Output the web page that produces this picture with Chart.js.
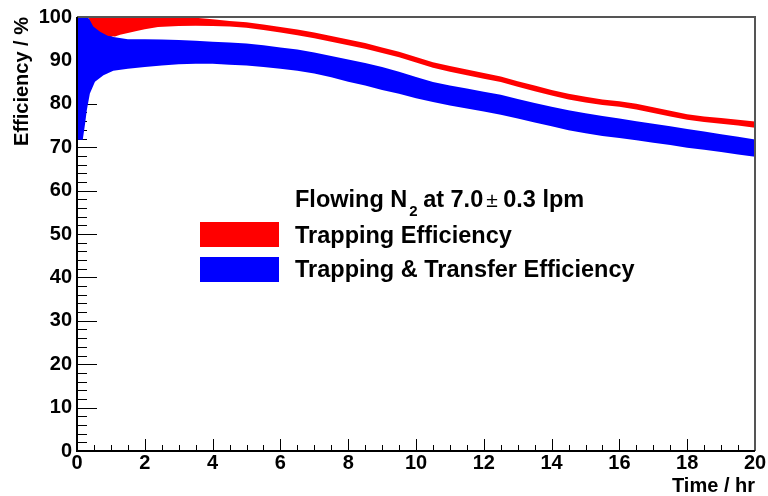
<!DOCTYPE html>
<html>
<head>
<meta charset="utf-8">
<script src="https://cdn.jsdelivr.net/npm/chart.js@4/dist/chart.umd.min.js"></script>
<style>
html,body{margin:0;padding:0;background:#fff;}
#wrap{width:768px;height:496px;}
</style>
</head>
<body>
<div id="wrap"><canvas id="c" width="768" height="496"></canvas></div>
<script>
// ---- data ----
const redTime  = [0.33,0.48,0.68,0.92,1.12,1.27,1.5,1.76,2,2.39,3,3.5,4,4.5,5,5.5,6,6.5,7,7.5,8,8.5,9,9.5,10,10.5,11,11.5,12,12.5,13,13.5,14,14.5,15,15.5,16,16.5,17,17.5,18,18.5,19,19.5,20];
const redUpper = [100,100,100,100,100,100,100,100,100,100,100,99.8,99.5,99.1,98.8,98.3,97.7,97.1,96.4,95.6,94.8,94.0,93.0,92.0,90.8,89.6,88.7,87.9,87.1,86.3,85.2,84.2,83.2,82.3,81.6,81.0,80.6,80.0,79.2,78.4,77.6,77.1,76.7,76.3,75.9];
const redLower = [100,97.8,96.6,95.6,95.5,95.9,96.3,96.8,97.2,97.7,97.9,98.0,97.9,97.8,97.5,97.0,96.4,95.8,95.1,94.3,93.5,92.7,91.7,90.7,89.5,88.3,87.4,86.6,85.8,85.0,83.9,82.9,81.9,81.0,80.3,79.7,79.3,78.7,77.9,77.1,76.3,75.8,75.4,75.0,74.5];

const blueTime  = [0,0.17,0.24,0.29,0.38,0.53,0.78,1.07,1.5,2,2.5,3,3.5,4,4.5,5,5.5,6,6.5,7,7.5,8,8.5,9,9.5,10,10.5,11,11.5,12,12.5,13,13.5,14,14.5,15,15.5,16,16.5,17,17.5,18,18.5,19,19.5,20];
const blueUpper = [100,100,100,100,99.5,97.8,96.5,95.4,94.9,94.9,94.8,94.7,94.5,94.3,94.1,93.9,93.5,93.0,92.5,91.8,91.0,90.2,89.4,88.5,87.4,86.2,85.0,84.2,83.5,82.8,82.1,81.1,80.2,79.3,78.5,77.8,77.2,76.6,76.0,75.4,74.8,74.2,73.6,73.0,72.4,71.8];
const blueLower = [71.7,71.7,75.5,78.6,82.4,85.1,86.6,87.6,88.1,88.5,88.8,89.1,89.2,89.2,89.0,88.8,88.5,88.1,87.6,87.0,86.1,85.1,84.2,83.2,82.3,81.3,80.4,79.6,78.9,78.2,77.5,76.6,75.7,74.8,73.9,73.2,72.6,72.1,71.6,71.0,70.5,69.9,69.4,68.9,68.3,67.8];

const seriesLabels = ['Trapping Efficiency', 'Trapping & Transfer Efficiency'];
const legendTitleParts = ['Flowing N', '2', ' at 7.0', '\u00b1', ' 0.3 lpm'];
const xTitle = 'Time / hr';
const yTitle = 'Efficiency / %';

const RED = '#ff0000', BLUE = '#0000ff';
const FONT = "'Liberation Sans', Arial, Helvetica, sans-serif";

function pts(t, v){ return t.map((x,i)=>({x:x, y:v[i]})); }

// inward ROOT-style ticks, drawn through the chart scales
const tickPlugin = {
  id: 'rootTicks',
  beforeDatasetsDraw(chart){
    const {ctx, chartArea:a, scales:{x, y}} = chart;
    ctx.save();
    ctx.strokeStyle = '#000';
    ctx.lineWidth = 1;
    ctx.beginPath();
    for (let v = 0; v <= 100.001; v += 2) {
      const py = Math.round(y.getPixelForValue(v)) + 0.5;
      const len = (Math.round(v) % 10 === 0) ? 20 : 10;
      ctx.moveTo(a.left, py); ctx.lineTo(a.left + len, py);
    }
    for (let v = 0; v <= 20.001; v += 0.5) {
      const px = Math.round(x.getPixelForValue(v)) + 0.5;
      const len = (Math.abs(v/2 - Math.round(v/2)) < 1e-6) ? 12 : 6;
      ctx.moveTo(px, a.bottom); ctx.lineTo(px, a.bottom - len);
    }
    ctx.stroke();
    ctx.restore();
  },
  afterDatasetsDraw(chart){
    const {ctx, chartArea:a} = chart;
    ctx.save();
    ctx.strokeStyle = '#555';
    ctx.lineWidth = 2;
    ctx.beginPath();
    ctx.moveTo(a.left, a.top); ctx.lineTo(a.right, a.top); ctx.lineTo(a.right, a.bottom);
    ctx.stroke();
    ctx.strokeStyle = '#000';
    ctx.beginPath();
    ctx.moveTo(a.left, a.top); ctx.lineTo(a.left, a.bottom); ctx.lineTo(a.right, a.bottom);
    ctx.stroke();
    ctx.restore();
  },
  afterDraw(chart){
    const ctx = chart.ctx;
    ctx.save();
    ctx.fillStyle = '#000';
    ctx.textBaseline = 'alphabetic';
    ctx.textAlign = 'left';
    const big = 'bold 23.5px ' + FONT;
    let xx = 295, by = 207;
    ctx.font = big;
    ctx.fillText(legendTitleParts[0], xx, by); xx += ctx.measureText(legendTitleParts[0]).width + 2;
    ctx.font = 'bold 15px ' + FONT;
    ctx.fillText(legendTitleParts[1], xx, by + 9); xx += ctx.measureText(legendTitleParts[1]).width - 1;
    ctx.font = big;
    ctx.fillText(legendTitleParts[2], xx, by); xx += ctx.measureText(legendTitleParts[2]).width + 3;
    ctx.font = '21px ' + FONT;
    ctx.fillText(legendTitleParts[3], xx, by); xx += ctx.measureText(legendTitleParts[3]).width - 1;
    ctx.font = big;
    ctx.fillText(legendTitleParts[4], xx, by);
    const colors = [RED, BLUE];
    const boxY = [222, 257];
    const textY = [243, 277];
    for (let i = 0; i < seriesLabels.length; i++) {
      ctx.fillStyle = colors[i];
      ctx.fillRect(200, boxY[i], 79, 25);
      ctx.fillStyle = '#000';
      ctx.font = big;
      ctx.fillText(seriesLabels[i], 295, textY[i]);
    }
    ctx.restore();
  }
};

const chart = new Chart(document.getElementById('c'), {
  type: 'line',
  data: {
    datasets: [
      {label: seriesLabels[0], data: pts(redTime, redUpper), fill: '+1', backgroundColor: RED, borderColor: 'rgba(0,0,0,0)', borderWidth: 0, pointRadius: 0, tension: 0},
      {label: seriesLabels[0] + ' low', data: pts(redTime, redLower), fill: false, borderColor: 'rgba(0,0,0,0)', borderWidth: 0, pointRadius: 0, tension: 0},
      {label: seriesLabels[1], data: pts(blueTime, blueUpper), fill: '+1', backgroundColor: BLUE, borderColor: 'rgba(0,0,0,0)', borderWidth: 0, pointRadius: 0, tension: 0},
      {label: seriesLabels[1] + ' low', data: pts(blueTime, blueLower), fill: false, borderColor: 'rgba(0,0,0,0)', borderWidth: 0, pointRadius: 0, tension: 0}
    ]
  },
  options: {
    responsive: false,
    animation: false,
    devicePixelRatio: 1,
    layout: {padding: {top: 17, right: 13, left: 0, bottom: 0}},
    plugins: {legend: {display: false}, tooltip: {enabled: false}},
    scales: {
      x: {
        type: 'linear', min: 0, max: 20,
        afterFit(s){ s.height = 45; },
        grid: {display: false, drawTicks: false},
        border: {display: false},
        ticks: {stepSize: 2, autoSkip: false, maxRotation: 0, padding: 0, color: '#000',
                font: {family: FONT, size: 20, weight: 'bold', lineHeight: 1.2}},
        title: {display: true, text: xTitle, align: 'end', color: '#000', padding: {top: 0, bottom: 0},
                font: {family: FONT, size: 20, weight: 'bold', lineHeight: 1}}
      },
      y: {
        min: 0, max: 100,
        afterFit(s){ s.width = 77; },
        grid: {display: false, drawTicks: false},
        border: {display: false},
        ticks: {stepSize: 10, autoSkip: false, padding: 5, color: '#000',
                font: {family: FONT, size: 20, weight: 'bold'}},
        title: {display: true, text: yTitle, align: 'end', color: '#000', padding: {top: 10, bottom: 0},
                font: {family: FONT, size: 20, weight: 'bold', lineHeight: 1.2}}
      }
    }
  },
  plugins: [tickPlugin]
});
</script>
</body>
</html>
